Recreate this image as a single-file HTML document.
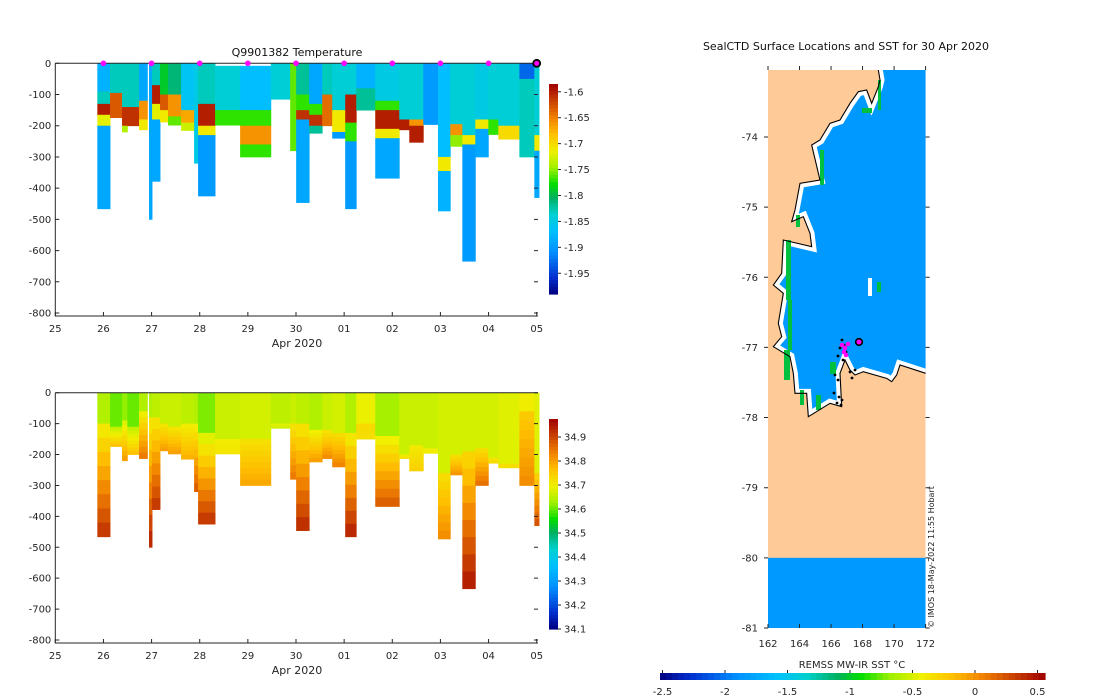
<!DOCTYPE html>
<html><head><meta charset="utf-8"><style>
html,body{margin:0;padding:0;background:#fff;}
svg{display:block;font-family:"DejaVu Sans","Liberation Sans",sans-serif;}
</style></head><body>
<svg id="fig" width="1100" height="700" viewBox="0 0 1100 700" xmlns="http://www.w3.org/2000/svg">
<defs>
<clipPath id="mapclip"><rect x="768" y="70" width="157.6" height="558"/></clipPath>
<clipPath id="seaclip"><polygon id="seapoly"/></clipPath>
</defs>
<rect width="1100" height="700" fill="#fff"/>
<g id="top"></g>
<g id="bot"></g>
<g id="map"></g>
</svg>
<script>
// ---- data ----
const dayTicks = ["25","26","27","28","29","30","01","02","03","04","05"];
const depthTicks = [0,-100,-200,-300,-400,-500,-600,-700,-800];
const castStart = [0.873,1.137,1.386,1.497,1.739,1.947,2.010,2.176,2.342,2.613,2.883,2.966,3.319,3.839,4.477,4.879,5.003,5.274,5.544,5.752,6.022,6.251,6.646,7.145,7.353,7.644,7.949,8.205,8.455,8.725,8.995,9.203,9.640,9.951];
const castEnd   = [1.137,1.386,1.497,1.739,1.913,2.010,2.176,2.342,2.613,2.883,2.966,3.319,3.839,4.477,4.879,5.003,5.274,5.544,5.752,6.022,6.251,6.646,7.145,7.353,7.644,7.949,8.205,8.455,8.725,8.995,9.203,9.640,9.951,10.049];
const castDepth = [466,174,220,200,213,500,378,188,198,215,320,425,198,300,115,280,446,224,213,240,466,150,368,213,253,196,473,266,634,300,228,243,300,430];
// temperature bands per cast: [top m, bottom m, temp °C]
const tempBands = [
 [[0,90,-1.88],[90,130,-1.83],[130,165,-1.60],[165,200,-1.72],[200,466,-1.89]],
 [[0,95,-1.83],[95,174,-1.63]],
 [[0,140,-1.83],[140,200,-1.61],[200,220,-1.74]],
 [[0,140,-1.83],[140,200,-1.61]],
 [[0,120,-1.89],[120,180,-1.66],[180,213,-1.71]],
 [[0,500,-1.89]],
 [[0,70,-1.83],[70,130,-1.60],[130,180,-1.72],[180,378,-1.89]],
 [[0,100,-1.79],[100,150,-1.63],[150,188,-1.71]],
 [[0,100,-1.81],[100,170,-1.66],[170,198,-1.76]],
 [[0,150,-1.86],[150,190,-1.67],[190,215,-1.73]],
 [[0,320,-1.85]],
 [[0,130,-1.83],[130,200,-1.60],[200,230,-1.71],[230,425,-1.90]],
 [[8,150,-1.84],[150,198,-1.77]],
 [[8,150,-1.87],[150,200,-1.77],[200,260,-1.66],[260,300,-1.77]],
 [[0,115,-1.84]],
 [[0,280,-1.76]],
 [[0,100,-1.82],[100,150,-1.77],[150,180,-1.61],[180,446,-1.89]],
 [[0,130,-1.89],[130,165,-1.77],[165,200,-1.61],[200,224,-1.82]],
 [[0,100,-1.83],[100,200,-1.64]],
 [[0,150,-1.84],[150,220,-1.71],[220,240,-1.90]],
 [[0,100,-1.84],[100,190,-1.60],[190,250,-1.77],[250,466,-1.90]],
 [[0,80,-1.88],[80,150,-1.82]],
 [[0,120,-1.85],[120,150,-1.77],[150,210,-1.60],[210,240,-1.71],[240,368,-1.89]],
 [[0,180,-1.84],[180,213,-1.60]],
 [[0,180,-1.84],[180,200,-1.66],[200,253,-1.60]],
 [[0,196,-1.90]],
 [[0,300,-1.87],[300,345,-1.71],[345,473,-1.88]],
 [[0,195,-1.84],[195,230,-1.66],[230,266,-1.75]],
 [[0,230,-1.84],[230,260,-1.71],[260,634,-1.90]],
 [[0,180,-1.85],[180,210,-1.71],[210,300,-1.89]],
 [[0,180,-1.84],[180,228,-1.77]],
 [[0,200,-1.84],[200,243,-1.70]],
 [[0,50,-1.93],[50,300,-1.83]],
 [[0,230,-1.84],[230,280,-1.71],[280,430,-1.89]]
];
// salinity: mixed-layer depth, surface value, bottom value
const salMixed = [100,110,90,110,60,80,80,100,110,100,100,130,150,150,100,100,100,120,120,130,130,100,140,200,170,180,260,200,190,180,210,230,60,260];
const salSurf  = [34.64,34.60,34.62,34.60,34.64,34.64,34.65,34.66,34.66,34.65,34.64,34.61,34.66,34.67,34.65,34.66,34.65,34.64,34.66,34.67,34.64,34.69,34.63,34.66,34.66,34.66,34.67,34.67,34.67,34.67,34.67,34.68,34.70,34.68];
const salDeep  = [34.91,34.76,34.80,34.76,34.84,34.93,34.91,34.80,34.80,34.78,34.87,34.91,34.71,34.79,34.66,34.84,34.92,34.80,34.82,34.83,34.93,34.72,34.87,34.72,34.74,34.70,34.82,34.81,34.94,34.85,34.73,34.72,34.82,34.88];
const tempCbTicks = [-1.6,-1.65,-1.7,-1.75,-1.8,-1.85,-1.9,-1.95];
const salCbTicks = [34.9,34.8,34.7,34.6,34.5,34.4,34.3,34.2,34.1];
const markerDays = [1,2,3,4,5,6,7,8,9];
const lonTicks = [162,164,166,168,170,172];
const latTicks = [-74,-75,-76,-77,-78,-79,-80,-81];
const sstTicks = [-2.5,-2,-1.5,-1,-0.5,0,0.5];

// ---- helpers ----
const NS="http://www.w3.org/2000/svg";
function mk(tag,attrs,parent){const e=document.createElementNS(NS,tag);for(const k in attrs)e.setAttribute(k,attrs[k]);parent.appendChild(e);return e;}
const stops=[[0,[0,0,128]],[0.08,[0,48,208]],[0.2,[0,144,255]],[0.3,[0,192,255]],[0.38,[0,208,208]],[0.46,[0,176,96]],[0.52,[0,221,0]],[0.6,[160,240,0]],[0.68,[240,240,0]],[0.76,[255,192,0]],[0.84,[240,128,0]],[0.92,[200,64,0]],[1,[160,0,0]]];
function cmap(t){t=Math.max(0,Math.min(1,t));for(let i=1;i<stops.length;i++){if(t<=stops[i][0]){const a=stops[i-1],b=stops[i];const f=(t-a[0])/(b[0]-a[0]);const c=a[1].map((v,j)=>Math.round(v+(b[1][j]-v)*f));return `rgb(${c})`;}}return "rgb(160,0,0)";}

function panel(g,y0,yBot){
  const xL=55.3,xR=536.7,plotR=538;
  const xs=d=>xL+d*(xR-xL)/10;
  const ys=m=>y0+m*(yBot-y0)/800;
  return {xs,ys,xL,plotR,y0,yBot};
}
function axes(g,P){
  const ax=mk('g',{},g);
  
  
  mk('path',{d:`M${P.xL} ${P.y0}H${P.plotR}M${P.xL} ${P.y0}V${P.yBot+3}H${P.plotR}`,stroke:'#262626','stroke-width':1,fill:'none'},ax);
  depthTicks.forEach(v=>{const y=P.ys(-v);mk('path',{d:`M${P.xL} ${y}h4M${P.plotR} ${y}h-4`,stroke:'#262626'},ax);
    const t=mk('text',{x:P.xL-4,y:y+3.5,'text-anchor':'end','font-size':10,fill:'#262626'},ax);t.textContent=v;
    });
  dayTicks.forEach((s,i)=>{const x=P.xs(i);mk('path',{d:`M${x} ${P.yBot+3}v-4`,stroke:'#262626'},ax);
    const t=mk('text',{x:x,y:P.yBot+19,'text-anchor':'middle','font-size':10,fill:'#262626'},ax);t.textContent=s;
    });
  const xl=mk('text',{x:297,y:P.yBot+34,'text-anchor':'middle','font-size':11,fill:'#262626'},ax);xl.textContent='Apr 2020';
  
}
function colorbar(g,x,yTop,yBot,vmin,vmax,ticks,name){
  const cb=mk('g',{},g);
  
  
  const n=60;for(let i=0;i<n;i++){const y=yTop+(yBot-yTop)*i/n;mk('rect',{x:x,y:y,width:9,height:(yBot-yTop)/n+0.6,fill:cmap(1-(i+0.5)/n)},cb);}
  ticks.forEach(v=>{const y=yBot-(v-vmin)/(vmax-vmin)*(yBot-yTop);mk('path',{d:`M${x+9} ${y}h3`,stroke:'#262626'},cb);
    const t=mk('text',{x:x+15,y:y+3.5,'font-size':10,fill:'#262626'},cb);t.textContent=v;
    });
}

// ---- temperature panel ----
(function(){
  const g=document.getElementById('top');
  const P=panel(g,63.3,313);
  const tmin=-1.99,tmax=-1.585;
  castStart.forEach((s,i)=>{
    tempBands[i].forEach(b=>{
      const r=mk('rect',{x:P.xs(s),y:P.ys(b[0]),width:P.xs(castEnd[i])-P.xs(s)+0.4,height:P.ys(b[1])-P.ys(b[0])+0.4,fill:cmap((b[2]-tmin)/(tmax-tmin))},g);
      
      
    });
  });
  axes(g,P);
  markerDays.forEach(d=>{const c=mk('circle',{cx:P.xs(d),cy:P.y0,r:2.8,fill:'#ff00ff'},g);
    });
  const lc=mk('circle',{cx:P.xs(10),cy:P.y0,r:3.5,fill:'#ff00ff',stroke:'#000','stroke-width':1.8},g);
  
  const t=mk('text',{x:297,y:56,'text-anchor':'middle','font-size':11,fill:'#111'},g);t.textContent='Q9901382  Temperature';
  
  colorbar(g,549,84,294,tmin,tmax,tempCbTicks,'temperature-colorbar');
})();

// ---- salinity panel ----
(function(){
  const g=document.getElementById('bot');
  const P=panel(g,392.7,640);
  const smin=34.1,smax=34.975;
  castStart.forEach((s,i)=>{
    const x=P.xs(s),w=P.xs(castEnd[i])-x+0.4;
    const r0=mk('rect',{x:x,y:P.ys(0),width:w,height:P.ys(Math.min(salMixed[i],castDepth[i]))-P.ys(0)+0.4,fill:cmap((salSurf[i]-smin)/(smax-smin))},g);
    
    
    const top=salMixed[i],bot=castDepth[i];
    if(bot>top){const n=8;for(let k=0;k<n;k++){const d0=top+(bot-top)*k/n,d1=top+(bot-top)*(k+1)/n;
      const v=salSurf[i]+0.04+(salDeep[i]-salSurf[i]-0.04)*(k+1)/n;
      const r=mk('rect',{x:x,y:P.ys(d0),width:w,height:P.ys(d1)-P.ys(d0)+0.4,fill:cmap((v-smin)/(smax-smin))},g);
      
      }}
  });
  axes(g,P);
  colorbar(g,549,419,629,smin,smax,salCbTicks,'salinity-colorbar');
})();

// ---- map ----
(function(){
  const g=document.getElementById('map');
  const X0=768,X1=925.6,Y0=70,Y1=628;
  const lonX=l=>X0+(l-162)*(X1-X0)/10;
  const latY=l=>137+(-74-l)*70.14;
  const mg=mk('g',{'clip-path':'url(#mapclip)'},g);
  
  const land=mk('rect',{x:X0,y:Y0,width:X1-X0,height:Y1-Y0,fill:'#fdca98'},mg);
  
  const strip=mk('rect',{x:X0,y:latY(-80),width:X1-X0,height:Y1-latY(-80),fill:'#0099ff'},mg);
  
  const pts=[[415,0],[620,0],[620,945],[557,940],[480,915],[470,945],[455,965],[440,955],[370,935],[345,945],[330,930],[315,900],[300,940],[305,1040],[270,1030],[205,1070],[200,1000],[165,1000],[160,940],[150,890],[100,860],[125,830],[115,790],[130,700],[100,675],[125,640],[130,540],[215,560],[210,520],[190,470],[155,485],[165,450],[180,370],[240,360],[215,255],[240,240],[270,190],[300,180],[330,130],[355,95],[380,90],[395,130],[415,80],[420,60],[415,30]];
  const P=pts.map(p=>[740+p[0]/3,60+p[1]/3]);
  const ptsStr=P.map(p=>p.join(',')).join(' ');
  document.getElementById('seapoly').setAttribute('points',ptsStr);
  const pb=mk('polygon',{points:ptsStr,fill:'#0099ff',stroke:'#fff','stroke-width':9,'clip-path':'url(#seaclip)'},mg);
  
  // green fringe patches
  [[786,240,5,60],[788,300,4,50],[784,350,6,30],[820,150,4,35],[796,215,4,12],[878,80,3,30],[862,108,10,5],[816,395,5,15],[830,362,6,12],[877,282,4,10],[800,390,4,15]].forEach(r=>{
    const e=mk('rect',{x:r[0],y:r[1],width:r[2],height:r[3],fill:'#00c040'},mg);
    });
  const isl=mk('rect',{x:868,y:278,width:4,height:18,fill:'#fff'},mg);
  
  const cl=mk('polygon',{points:ptsStr,fill:'none',stroke:'#000','stroke-width':1.1},mg);
  
  // track points
  [[842,340],[844,345],[840,348],[846,352],[838,356],[843,360],[835,375],[838,380],[834,393],[839,397],[842,400],[837,403],[841,405],[850,372],[852,378],[855,370]].forEach(p=>{
    const c=mk('circle',{cx:p[0],cy:p[1],r:1.4,fill:'#000'},g);
    });
  [[842,345],[845,348],[848,344],[844,352],[846,355]].forEach(p=>{
    const c=mk('circle',{cx:p[0],cy:p[1],r:2.3,fill:'#ff00ff'},g);
    });
  const lc=mk('circle',{cx:859,cy:342,r:3.3,fill:'#ff00ff',stroke:'#000','stroke-width':1.6},g);
  
  // axes
  lonTicks.forEach(l=>{const x=lonX(l);mk('path',{d:`M${x} ${Y1}v-4M${x} ${Y0-4}v4`,stroke:'#262626'},g);
    const t=mk('text',{x:x,y:Y1+19,'text-anchor':'middle','font-size':10,fill:'#262626'},g);t.textContent=l;
    });
  latTicks.forEach(l=>{const y=latY(l);mk('path',{d:`M${X0-4} ${y}h4M${X1} ${y}h4`,stroke:'#262626'},g);
    const t=mk('text',{x:X0-10,y:y+3.5,'text-anchor':'end','font-size':10,fill:'#262626'},g);t.textContent=l;
    });
  const tt=mk('text',{x:846,y:50,'text-anchor':'middle','font-size':11,fill:'#111'},g);tt.textContent='SealCTD Surface Locations and SST for 30 Apr 2020';
  
  const st=mk('text',{x:0,y:0,'font-size':8,fill:'#222',transform:'translate(934 628) rotate(-90)'},g);st.textContent='© IMOS 18-May-2022 11:55 Hobart';
  
  // SST colorbar
  const cb=mk('g',{},g);
  
  
  const cx0=660,cx1=1045,vmin=-2.52,vmax=0.56,n=64;
  for(let i=0;i<n;i++){mk('rect',{x:cx0+(cx1-cx0)*i/n,y:673,width:(cx1-cx0)/n+0.6,height:7,fill:cmap((i+0.5)/n)},cb);}
  sstTicks.forEach(v=>{const x=cx0+(v-vmin)/(vmax-vmin)*(cx1-cx0);mk('path',{d:`M${x} 673v-3`,stroke:'#262626'},cb);
    const t=mk('text',{x:x,y:695,'text-anchor':'middle','font-size':10,fill:'#262626'},cb);t.textContent=v;
    });
  const ct=mk('text',{x:852,y:668,'text-anchor':'middle','font-size':10,fill:'#262626'},cb);ct.textContent='REMSS MW-IR SST °C';
  
})();
</script>
</body></html>
